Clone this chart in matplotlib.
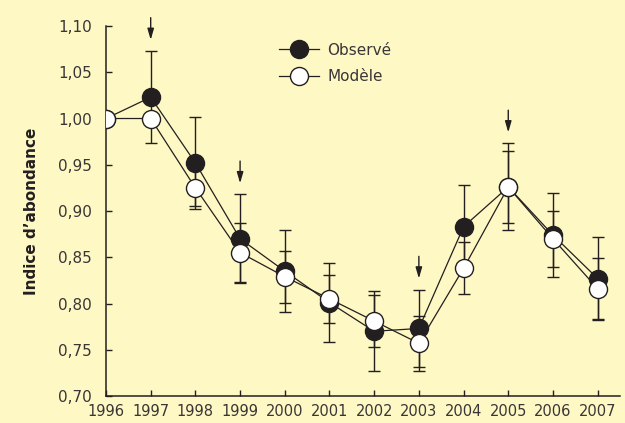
'''
Indice d'abondance: observed vs model, 1996-2007
'''
import matplotlib
matplotlib.use('Agg')
import matplotlib.pyplot as plt
import numpy as np

years = [1996, 1997, 1998, 1999, 2000, 2001, 2002, 2003, 2004, 2005, 2006, 2007]
observe = [1.000, 1.023, 0.952, 0.870, 0.835, 0.801, 0.770, 0.773, 0.883, 0.926, 0.874, 0.827]
observe_err = [0.0, 0.050, 0.050, 0.048, 0.044, 0.043, 0.043, 0.042, 0.045, 0.047, 0.045, 0.045]
modele = [1.000, 1.000, 0.925, 0.855, 0.829, 0.805, 0.781, 0.757, 0.838, 0.926, 0.870, 0.816]
modele_err = [0.0, 0.0, 0.020, 0.032, 0.028, 0.026, 0.028, 0.030, 0.028, 0.039, 0.030, 0.033]
arrow_years = [1997, 1999, 2003, 2005]

ytick_vals = [0.70, 0.75, 0.80, 0.85, 0.90, 0.95, 1.00, 1.05, 1.10]

bg = '#FEF8C4'
ink = '#231F20'

plt.rcParams['font.family'] = ['DejaVu Sans']

fig = plt.figure(figsize=(6.25, 4.23), dpi=100, facecolor=bg)
ax = fig.add_axes([0.1696, 0.0638, 0.8224, 0.8747], facecolor=bg)

# error bars first, behind the markers
ax.errorbar(years, observe, yerr=observe_err, fmt='none', ecolor=ink,
            elinewidth=1.0, capsize=4.3, capthick=1.0, zorder=2)
ax.errorbar(years, modele, yerr=modele_err, fmt='none', ecolor=ink,
            elinewidth=1.0, capsize=4.3, capthick=1.0, zorder=2)

ax.plot(years, observe, '-o', color=ink, lw=0.9, markersize=13,
        markerfacecolor=ink, markeredgecolor=ink, markeredgewidth=1.0,
        label='Observé', zorder=3)
ax.plot(years, modele, '-o', color=ink, lw=0.9, markersize=13,
        markerfacecolor='white', markeredgecolor=ink, markeredgewidth=1.0,
        label='Modèle', zorder=4)

# arrows above some years
for yr in arrow_years:
    i = years.index(yr)
    tip = observe[i] + observe_err[i] + 0.012
    ax.annotate('', xy=(yr, tip), xytext=(yr, tip + 0.024),
                arrowprops=dict(arrowstyle='-|>,head_length=0.55,head_width=0.16',
                                color=ink, lw=1.0, mutation_scale=12,
                                shrinkA=0, shrinkB=0))

ax.set_xlim(1996, 2007.5)
ax.set_ylim(0.70, 1.10)
ax.set_xticks(years)
ax.set_xticklabels([str(y) for y in years])
ax.set_yticks(ytick_vals)
ax.set_yticklabels([('%.2f' % v).replace('.', ',') for v in ytick_vals])

ax.spines['top'].set_visible(False)
ax.spines['right'].set_visible(False)
for s in ['left', 'bottom']:
    ax.spines[s].set_color(ink)
    ax.spines[s].set_linewidth(1.1)

ax.tick_params(direction='in', length=4.5, width=1.0, color=ink,
               labelcolor='#3a3536', labelsize=11)
ax.tick_params(axis='y', pad=10)
ax.tick_params(axis='x', pad=6, labelsize=10.5)

ax.set_ylabel('Indice d\u2019abondance', fontsize=11, fontweight='bold',
              color=ink, labelpad=14)

leg = ax.legend(loc='upper left', bbox_to_anchor=(0.3366, 0.955), frameon=False,
                fontsize=11, handlelength=2.6, handletextpad=0.55,
                labelspacing=0.75, borderpad=0, borderaxespad=0)
for t in leg.get_texts():
    t.set_color('#3a3536')

plt.savefig('out.png', dpi=100, facecolor=bg)
